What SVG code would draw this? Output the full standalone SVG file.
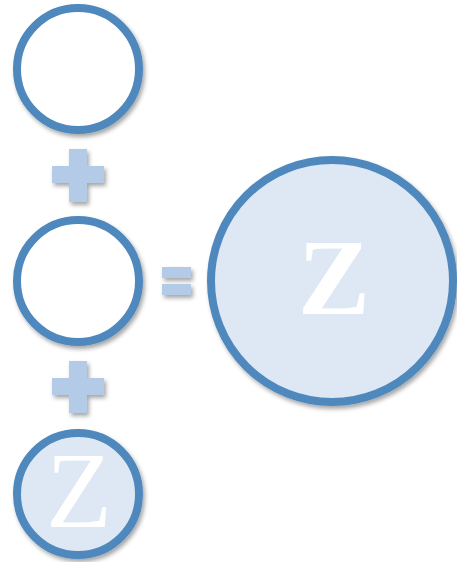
<svg xmlns="http://www.w3.org/2000/svg" width="457" height="562" viewBox="0 0 457 562">
<defs>
<filter id="sh" x="-20%" y="-20%" width="150%" height="150%">
<feDropShadow dx="2" dy="3" stdDeviation="2" flood-color="#000" flood-opacity="0.35"/>
</filter>
</defs>
<style>
.c{stroke:#4f88bd;stroke-width:8;filter:url(#sh)}
.op{fill:#b3cbe6;filter:url(#sh)}
.z{fill:#ffffff;font-family:"Liberation Serif",serif;text-anchor:middle}
</style>
<rect width="457" height="562" fill="#ffffff"/>
<g id="circle1"><circle class="c" cx="78" cy="69" r="61" fill="#ffffff"/></g>
<g id="plus1" class="op"><path d="M69 149h18v17h17v17h-17v19h-18v-19h-17v-17h17z"/></g>
<g id="circle2"><circle class="c" cx="78" cy="281" r="61" fill="#ffffff"/></g>
<g id="plus2" class="op"><path d="M69 361h18v17h17v17h-17v18h-18v-18h-17v-17h17z"/></g>
<g id="circle3"><circle class="c" cx="78" cy="494" r="61" fill="#dde8f4"/><text class="z" x="79" y="527" font-size="108">Z</text></g>
<g id="equals" class="op"><rect x="162" y="267" width="29" height="11"/><rect x="162" y="284" width="29" height="11"/></g>
<g id="result"><circle class="c" cx="332" cy="281" r="121" fill="#dde8f4"/><text class="z" x="334" y="314" font-size="108" font-weight="bold">Z</text></g>
<g id="connectors"/>
</svg>
